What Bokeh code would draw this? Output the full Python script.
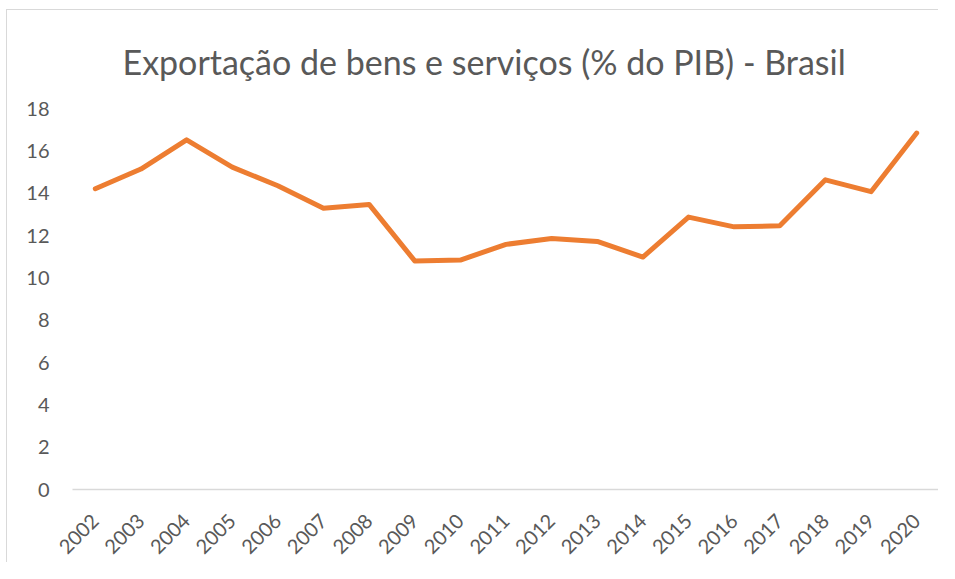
import math
from bokeh.plotting import figure
from bokeh.models import FactorRange, Range1d, FixedTicker, Title
from bokeh.embed import file_html
from bokeh.resources import INLINE

years = ["2002", "2003", "2004", "2005", "2006", "2007", "2008", "2009", "2010", "2011",
         "2012", "2013", "2014", "2015", "2016", "2017", "2018", "2019", "2020"]
exports = [14.21, 15.14, 16.52, 15.23, 14.35, 13.29, 13.47, 10.80, 10.84, 11.58,
           11.86, 11.72, 10.98, 12.87, 12.41, 12.46, 14.63, 14.07, 16.84]
y_ticks = [0, 2, 4, 6, 8, 10, 12, 14, 16, 18]
title_text = "Exportação de bens e serviços (% do PIB) - Brasil"

FONT = "Lato"
TXT = "#595959"

p = figure(width=932, height=553, output_backend="svg", toolbar_location=None,
           x_range=FactorRange(*years, range_padding=0), y_range=Range1d(0, 18),
           min_border_left=65, min_border_right=0, min_border_top=98, min_border_bottom=65)
p.title = None
t = Title(text=title_text, align="left", text_font=FONT, text_font_size="34px",
          text_color=TXT, text_font_style="normal", offset=50, standoff=54)
p.add_layout(t, "above")

p.styles = {"border-top": "1px solid #d9d9d9", "border-left": "1px solid #d9d9d9",
            "margin-left": "6px", "margin-top": "9px"}
p.outline_line_color = None
p.background_fill_color = "white"
p.border_fill_color = "white"
p.xgrid.grid_line_color = None
p.ygrid.grid_line_color = None

p.line(years, exports, line_color="#ED7D31", line_width=5, line_cap="round", line_join="round")

p.yaxis.ticker = FixedTicker(ticks=y_ticks)
p.yaxis.axis_line_color = None
p.yaxis.major_tick_line_color = None
p.yaxis.minor_tick_line_color = None
p.yaxis.major_label_standoff = 17
p.yaxis.major_label_text_font = FONT
p.yaxis.major_label_text_font_size = "20px"
p.yaxis.major_label_text_color = TXT

p.xaxis.axis_line_color = "#d9d9d9"
p.xaxis.axis_line_width = 1.5
p.xaxis.major_tick_line_color = None
p.xaxis.minor_tick_line_color = None
p.xaxis.major_label_orientation = math.pi / 4
p.xaxis.major_label_standoff = 22
p.xaxis.major_label_text_font = FONT
p.xaxis.major_label_text_font_size = "20px"
p.xaxis.major_label_text_color = TXT

open("out.html", "w").write(file_html(p, INLINE))
